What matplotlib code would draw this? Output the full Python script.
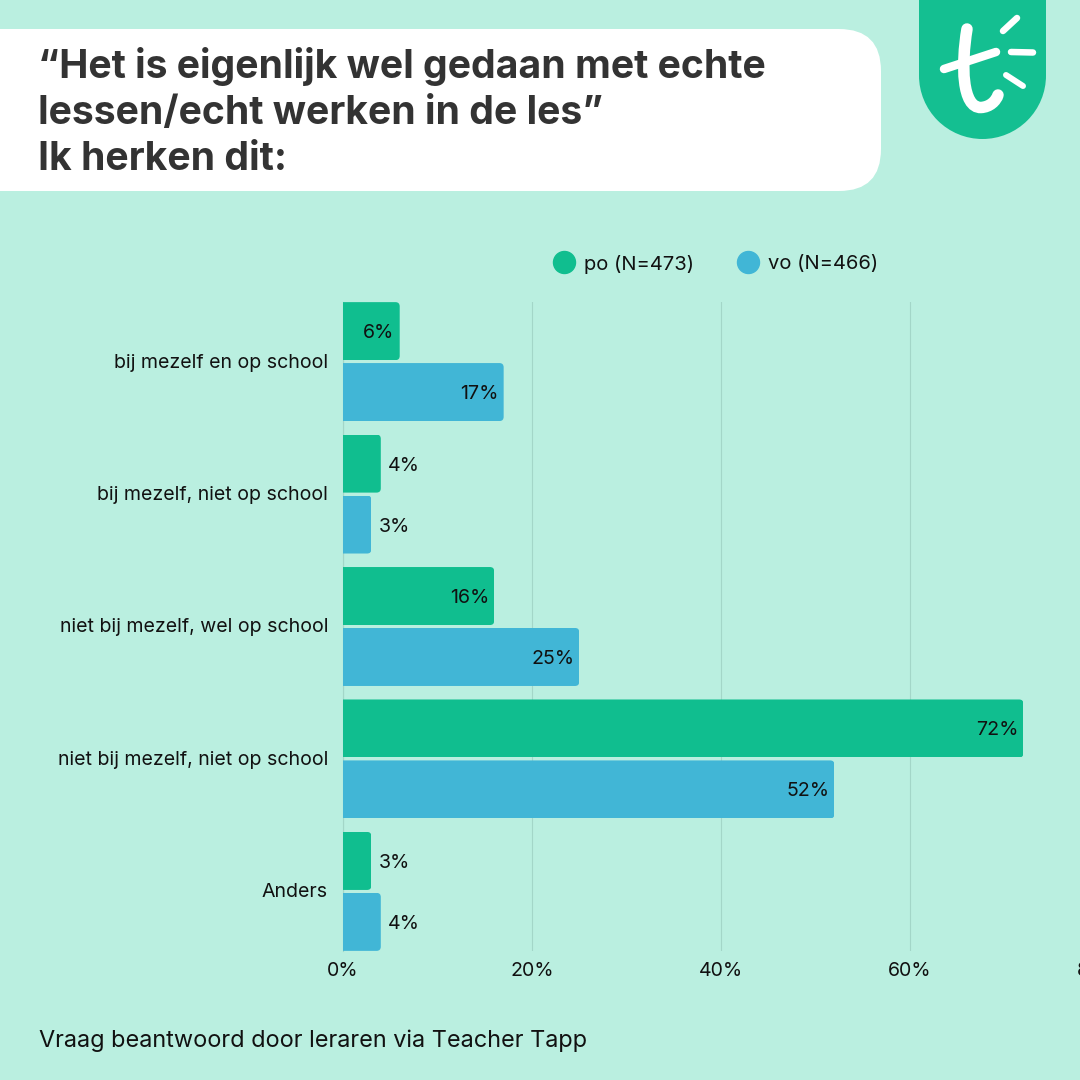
import matplotlib

matplotlib.use("Agg")
import matplotlib.pyplot as plt
from matplotlib.lines import Line2D
from matplotlib.patches import Circle, FancyBboxPatch, PathPatch, Rectangle
from matplotlib.path import Path
from matplotlib.transforms import ScaledTranslation

# Data
CATEGORIES = [
    "bij mezelf en op school",
    "bij mezelf, niet op school",
    "niet bij mezelf, wel op school",
    "niet bij mezelf, niet op school",
    "Anders",
]
PO_VALUES = [6, 4, 16, 72, 3]
VO_VALUES = [17, 3, 25, 52, 4]
PO_LABEL = "po (N=473)"
VO_LABEL = "vo (N=466)"
X_TICKS = [0, 20, 40, 60, 80]
TITLE_LINES = [
    "“Het is eigenlijk wel gedaan met echte",
    "lessen/echt werken in de les”",
    "Ik herken dit:",
]
FOOTER = "Vraag beantwoord door leraren via Teacher Tapp"

# Style parameters
SIZE = 1080
COLOR_BG = "#BAEFE0"
COLOR_PO = "#10BE8F"
COLOR_VO = "#41B6D6"
COLOR_LOGO = "#14BF91"
COLOR_GRID = "#A3D6C8"
COLOR_TITLE = "#333333"
COLOR_TEXT = "#111111"
FONT = "Inter"
FONTSIZE = 14.1
PX = 72 / 100  # one pixel in points


def rounded_bars(ax, bars, radius=0.45):
    # Round only the right end: the clip box sticks out on the left
    aspect = (756 / 80) / (132.4)
    for bar in bars:
        clip = FancyBboxPatch(
            (-2, bar.get_y()),
            bar.get_width() + 2,
            bar.get_height(),
            boxstyle=f"round,pad=0,rounding_size={radius}",
            mutation_aspect=aspect,
            transform=ax.transData,
        )
        bar.set_clip_path(clip)


def value_labels(ax, bars, values):
    for bar, value in zip(bars, values):
        y = bar.get_y() + bar.get_height() / 2
        inside = value > 5
        ax.annotate(
            f"{value}%",
            (value, y),
            xytext=(-5 * PX if inside else 7 * PX, -2 * PX),
            textcoords="offset points",
            ha="right" if inside else "left",
            va="center",
            fontsize=FONTSIZE,
            color=COLOR_TEXT,
            family=FONT,
            zorder=3,
        )


def plot_header(bg):
    # White title band
    bg.add_patch(
        FancyBboxPatch(
            (-80, 29),
            961,
            162,
            boxstyle="round,pad=0,rounding_size=42",
            fc="white",
            ec="none",
        )
    )
    for text, y in zip(TITLE_LINES, [66, 113, 160]):
        bg.text(
            38,
            y,
            text,
            fontsize=28.2,
            fontweight="bold",
            color=COLOR_TITLE,
            family=FONT,
            va="center",
            ha="left",
        )

    # Logo shield
    bg.add_patch(Rectangle((919, -5), 127, 80.5, fc=COLOR_LOGO, ec="none"))
    bg.add_patch(Circle((982.5, 75.5), 63.5, fc=COLOR_LOGO, ec="none"))

    # Logo t with its rays
    stroke = dict(fc="none", ec="white", capstyle="round")
    stem = Path(
        [(967, 29), (961, 65), (962, 108), (981, 107.5), (990, 107), (996, 101), (998, 95)],
        [Path.MOVETO, Path.CURVE4, Path.CURVE4, Path.CURVE4, Path.CURVE4, Path.CURVE4, Path.CURVE4],
    )
    bg.add_patch(PathPatch(stem, lw=11.5 * PX, **stroke))
    bg.add_patch(PathPatch(Path([(944, 69), (996, 52)]), lw=8.5 * PX, **stroke))
    bg.add_patch(PathPatch(Path([(1003, 31), (1017, 18)]), lw=6.5 * PX, **stroke))
    bg.add_patch(PathPatch(Path([(1011, 52), (1033, 52.5)]), lw=6.5 * PX, **stroke))
    bg.add_patch(PathPatch(Path([(1006, 75), (1023, 86)]), lw=6 * PX, **stroke))


def main():
    ##################
    # Prepare canvas #
    ##################
    fig = plt.figure(figsize=(SIZE / 100, SIZE / 100), dpi=100, facecolor=COLOR_BG)
    bg = fig.add_axes([0, 0, 1, 1])
    bg.set_xlim(0, SIZE)
    bg.set_ylim(SIZE, 0)
    bg.axis("off")

    # Plot area runs past the right edge, the 80% tick is cut off in the original
    left, right, top, bottom = 343, 1099, 302, 951
    ax = fig.add_axes(
        [left / SIZE, 1 - bottom / SIZE, (right - left) / SIZE, (bottom - top) / SIZE]
    )
    ax.patch.set_alpha(0)

    #############
    # Draw bars #
    #############
    positions = list(range(len(CATEGORIES)))
    height = 0.438
    offset = 0.23
    bars_po = ax.barh(
        [p - offset for p in positions], PO_VALUES, height=height, color=COLOR_PO, zorder=2
    )
    bars_vo = ax.barh(
        [p + offset for p in positions], VO_VALUES, height=height, color=COLOR_VO, zorder=2
    )
    rounded_bars(ax, bars_po)
    rounded_bars(ax, bars_vo)
    value_labels(ax, bars_po, PO_VALUES)
    value_labels(ax, bars_vo, VO_VALUES)

    ########
    # Axes #
    ########
    ax.set_xlim(X_TICKS[0], X_TICKS[-1])
    ax.set_ylim(4.45, -0.45)
    ax.set_yticks(positions, CATEGORIES)
    ax.set_xticks(X_TICKS, [f"{t}%" for t in X_TICKS])
    ax.tick_params(length=0, labelsize=FONTSIZE, labelcolor=COLOR_TEXT)
    ax.tick_params(axis="y", pad=15 * PX)
    ax.tick_params(axis="x", pad=11 * PX)
    for label in ax.get_xticklabels() + ax.get_yticklabels():
        label.set_family(FONT)
    # Category labels sit a pixel higher than the bar groups
    nudge = ScaledTranslation(0, 1 * PX / 72, fig.dpi_scale_trans)
    for label in ax.get_yticklabels():
        label.set_transform(label.get_transform() + nudge)
    ax.grid(axis="x", color=COLOR_GRID, lw=0.8, zorder=0)
    ax.set_axisbelow(True)
    for name in ["top", "right", "bottom"]:
        ax.spines[name].set_visible(False)
    ax.spines["left"].set_color(COLOR_GRID)
    ax.spines["left"].set_linewidth(0.8)
    ax.spines["left"].set_zorder(1)

    ##########
    # Legend #
    ##########
    handles = [
        Line2D([], [], ls="", marker="o", ms=22 * PX, color=COLOR_PO, label=PO_LABEL),
        Line2D([], [], ls="", marker="o", ms=22 * PX, color=COLOR_VO, label=VO_LABEL),
    ]
    fig.legend(
        handles=handles,
        ncol=2,
        frameon=False,
        loc="center left",
        bbox_to_anchor=(526 / SIZE, 1 - 264 / SIZE),
        prop=dict(family=FONT, size=14.5),
        labelcolor=COLOR_TEXT,
        handletextpad=0.0,
        columnspacing=1.65,
    )

    ################
    # Header, foot #
    ################
    plot_header(bg)
    bg.text(
        39, 1041, FOOTER, fontsize=16.9, color=COLOR_TEXT, family=FONT, va="center", ha="left"
    )

    ###############
    # Save figure #
    ###############
    plt.savefig("out.png", dpi=100, facecolor=COLOR_BG)
    plt.close()


if __name__ == "__main__":
    main()
